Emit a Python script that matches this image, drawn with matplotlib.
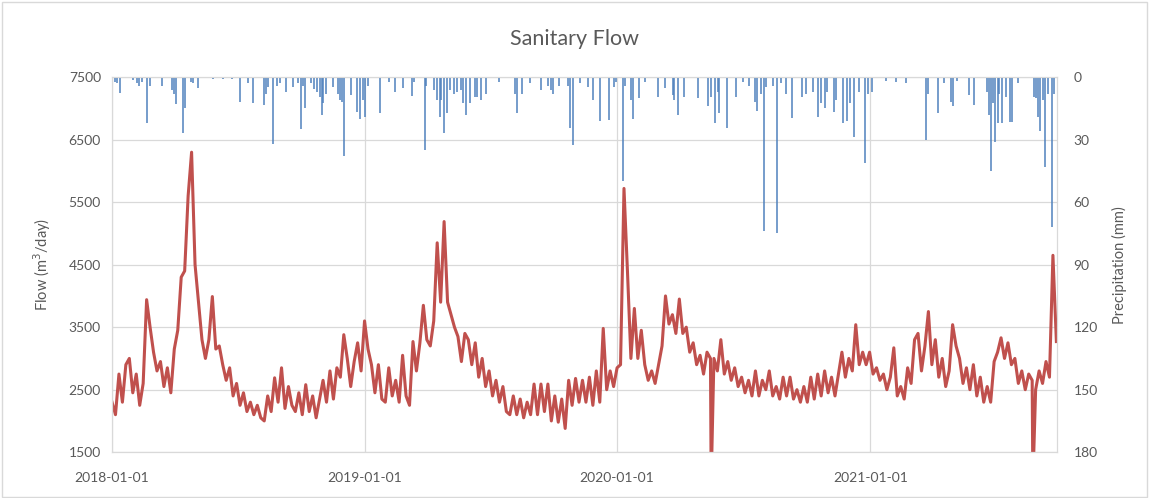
import matplotlib
matplotlib.use('Agg')
import matplotlib.pyplot as plt
import matplotlib.dates as mdates
from matplotlib.patches import Rectangle
import numpy as np
import pandas as pd

plt.rcParams['font.family'] = ['Lato', 'DejaVu Sans']

START = pd.Timestamp('2018-01-01')
STEP_DAYS = 5  # flow every 5 days

flow = [
    2300, 2100, 2750, 2300, 2900, 3000, 2450, 2750, 2250, 2600,
    3940, 3500, 3100, 2800, 2950, 2550, 2850, 2450, 3150, 3450,
    4300, 4400, 5600, 6300, 4500, 3900, 3300, 3000, 3300, 3990,
    3150, 3200, 2900, 2650, 2850, 2400, 2600, 2250, 2450, 2150,
    2300, 2100, 2250, 2050, 2000, 2400, 2150, 2690, 2300, 2850,
    2200, 2550, 2250, 2150, 2450, 2100, 2580, 2150, 2400, 2050,
    2350, 2650, 2300, 2800, 2350, 2850, 2700, 3380, 3000, 2550,
    2950, 3250, 2800, 3600, 3150, 2900, 2450, 2900, 2350, 2300,
    2850, 2400, 2650, 2300, 3050, 2400, 2250, 3270, 2800, 3250,
    3850, 3300, 3200, 3600, 4850, 3900, 5190, 3900, 3700, 3500,
    3350, 2950, 3400, 3300, 2900, 3250, 2700, 3000, 2550, 2800,
    2400, 2650, 2300, 2550, 2150, 2100, 2400, 2100, 2350, 2050,
    2300, 2100, 2590, 2100, 2590, 2150, 2590, 2000, 2400, 1980,
    2350, 1880, 2650, 2250, 2680, 2300, 2650, 2300, 2700, 2250,
    2800, 2300, 3480, 2500, 2800, 2550, 2850, 2900, 5720, 4400,
    3000, 3800, 3000, 3450, 2900, 2650, 2800, 2600, 2900, 3200,
    4000, 3550, 3700, 3400, 3950, 3400, 3500, 3100, 3250, 2900,
    3050, 2750, 3100, 3000, 3000, 2800, 3300, 2750, 2950, 2650,
    2850, 2550, 2700, 2450, 2650, 2400, 2800, 2400, 2650, 2500,
    2800, 2400, 2550, 2350, 2700, 2400, 2700, 2350, 2500, 2300,
    2550, 2300, 2700, 2350, 2750, 2400, 2800, 2450, 2700, 2400,
    2750, 3100, 2700, 3000, 2800, 3540, 2900, 3100, 2900, 3100,
    2750, 2850, 2650, 2750, 2500, 2700, 3170, 2400, 2550, 2350,
    2850, 2600, 3300, 3400, 2800, 3200, 3750, 2900, 3300, 2700,
    3000, 2550, 2800, 3540, 3200, 3000, 2600, 2850, 2500, 2900,
    2400, 2700, 2300, 2550, 2300, 2950, 3100, 3330, 3000, 3250,
    2900, 3000, 2600, 2800, 2500, 2750, 2650, 2500, 2800, 2600,
    2950, 2700, 4650, 3270,
]

# single-day drops of the flow meter (day offset, value), off the bottom of the axis
drop_day = [866, 1331]
drop_flow = [1000, 1000]

# precipitation: day offset from 2018-01-01 and depth in mm
precip_day = [
    4, 7, 12, 31, 36, 39, 43, 51, 55, 72, 86, 89, 92, 103, 105, 114, 117, 124,
    146, 161, 173, 185, 197, 204, 219, 222, 226, 232, 238, 243, 251, 262, 269,
    273, 276, 279, 288, 292, 296, 300, 303, 305, 310, 320, 327, 329, 333, 336,
    346, 354, 359, 363, 365, 370, 388, 401, 409, 420, 433, 437, 452, 454, 466,
    470, 474, 476, 480, 484, 489, 494, 498, 505, 508, 512, 517, 524, 527, 534,
    541, 560, 582, 585, 593, 604, 620, 630, 635, 638, 646, 659, 662, 667, 676,
    688, 695, 706, 718, 726, 729, 738, 742, 750, 753, 761, 770, 789, 799, 811,
    813, 818, 827, 847, 862, 866, 872, 876, 878, 889, 902, 912, 921, 930, 932,
    938, 942, 945, 955, 961, 967, 974, 983, 998, 1003, 1013, 1020, 1025, 1030,
    1034, 1043, 1046, 1056, 1062, 1066, 1072, 1080, 1089, 1092, 1099, 1119,
    1133, 1148, 1176, 1179, 1194, 1203, 1212, 1215, 1222, 1239, 1246, 1265,
    1268, 1270, 1273, 1276, 1280, 1282, 1286, 1292, 1298, 1301, 1309, 1333,
    1335, 1338, 1342, 1346, 1349, 1353, 1358, 1361,
]
precip_mm = [
    2.5, 3, 7.5, 1.5, 3, 4, 2.5, 22, 4, 4, 6, 8, 13, 27, 15, 2.5, 3, 5.4,
    1, 1, 1, 12, 3, 12.6, 13.4, 8, 4.5, 32, 4, 3, 7, 4.5, 3,
    25, 4, 15, 3, 5.5, 7, 9.5, 18, 12.6, 8, 4.5, 8, 11, 12, 38,
    8.6, 16.6, 20, 11, 19, 4, 17, 2.5, 7, 5.4, 9, 2.5, 35, 4, 6,
    11, 19, 11, 27, 17, 6, 8, 7, 6, 12.6, 18, 12.6, 9.5, 9.5, 11,
    8, 2.5, 8, 17.4, 8, 3, 6, 4, 6, 8, 4, 4, 24.6, 32.6, 3,
    4.5, 11, 21, 20.6, 4.5, 2.5, 50, 4, 11, 20, 10, 2.5, 9.5, 5.4, 8.6,
    11, 18, 9.5, 10, 14, 9.5, 22, 7, 17.4, 24.6, 9.5, 2.5, 4, 12, 16,
    8, 74, 4.5, 4, 75, 3, 8, 19.4, 9.5, 8, 7, 19, 12.6, 15,
    7, 16.6, 11, 22, 21, 12.6, 28.6, 7, 41, 8, 7, 2,
    2.5, 3, 30, 8, 17.4, 3, 12, 14, 2, 8.6, 13.4, 7,
    18, 45, 12.6, 31, 22, 8, 22, 9.5, 21.4, 21.4, 3, 9.5,
    10, 19, 26, 11, 43, 8, 72, 8,
]

flow_s = pd.Series(flow, index=np.arange(len(flow)) * STEP_DAYS, dtype=float)
flow_s = pd.concat([flow_s, pd.Series(drop_flow, index=drop_day, dtype=float)]).sort_index()
flow_dates = START + pd.to_timedelta(flow_s.index, unit='D')
rain_dates = START + pd.to_timedelta(precip_day, unit='D')

TEXT = '#595959'
GRID = '#D9D9D9'

fig = plt.figure(figsize=(11.49, 4.98), dpi=100)
ax = fig.add_axes([0.0975, 0.092, 0.8225, 0.753])
ax2 = ax.twinx()

ax.plot(flow_dates, flow_s.values, color='#C0504D', lw=2.2)
ax.set_ylim(1500, 7500)
ax.set_yticks(np.arange(1500, 7501, 1000))
ax.set_xlim(START, START + pd.Timedelta(days=1366))
ax.xaxis.set_major_locator(mdates.YearLocator())
ax.xaxis.set_major_formatter(mdates.DateFormatter('%Y-%m-%d'))
ax.grid(True, color=GRID, lw=0.9)
ax.set_axisbelow(True)
ax.set_ylabel('Flow (m$^3$/day)', color=TEXT, fontsize=10.5, labelpad=11)

ax2.vlines(rain_dates, 0, precip_mm, color='#4F81BD', lw=1.1)
ax2.set_ylim(180, 0)
ax2.set_yticks(np.arange(0, 181, 30))
ax2.set_ylabel('Precipitation (mm)', color=TEXT, fontsize=10.5, labelpad=10)

for a in (ax, ax2):
    a.tick_params(length=0, colors=TEXT, labelsize=10)
    for s in a.spines.values():
        s.set_color(GRID)
ax.tick_params(axis='x', pad=14)
ax.tick_params(axis='y', pad=8)
ax2.tick_params(axis='y', pad=12)

fig.suptitle('Sanitary Flow', x=0.5, y=0.942, fontsize=15.5, color=TEXT)
fig.patches.append(Rectangle((0.002, 0.002), 0.996, 0.994, transform=fig.transFigure,
                             fill=False, ec=GRID, lw=1))

fig.savefig('out.png', dpi=100)
